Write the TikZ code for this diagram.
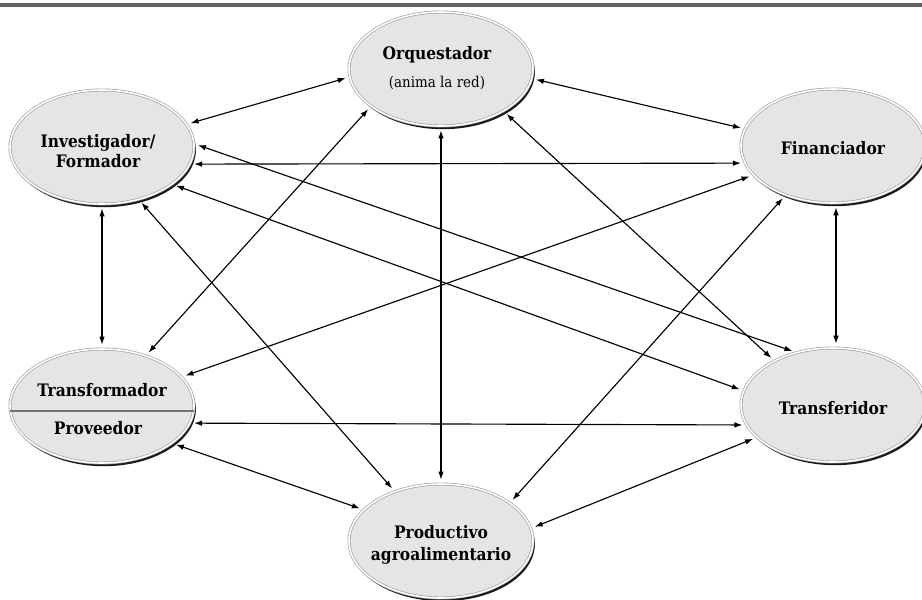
\documentclass[tikz,border=0pt]{standalone}
\usepackage{fontspec}
\setmainfont[FakeStretch=0.9]{DejaVu Serif}
\usetikzlibrary{shapes.geometric,shadows,arrows.meta}

\begin{document}
\begin{tikzpicture}[x=0.75pt, y=-0.75pt,
        actor/.style={ellipse, minimum width=138pt, minimum height=85.5pt, inner sep=0pt,
            fill=gray!20, draw=gray!75, line width=0.5pt, double=white, double distance=1.2pt,
            drop shadow={shadow xshift=1.4pt, shadow yshift=-2.4pt, fill=black!90, opacity=1}},
        rol/.style={font=\bfseries\fontsize{12.9}{15}\selectfont, align=center, inner sep=0pt},
        note/.style={font=\fontsize{11.2}{13}\selectfont, inner sep=0pt},
        link/.style={{Latex[length=6pt,width=4.2pt]}-{Latex[length=6pt,width=4.2pt]},
            line width=0.85pt, shorten <=3pt, shorten >=3pt}]
    \useasboundingbox (0,0) rectangle (922,600);
    \draw[black!62, line width=3pt] (0,5) -- (922,5);

    \node[actor] (orq) at (441,69) {};
    \node[actor] (inv) at (102,147) {};
    \node[actor] (fin) at (833,146) {};
    \node[actor] (trf) at (102,406) {};
    \node[actor] (tra) at (833,405) {};
    \node[actor] (pro) at (441,541) {};
    \draw[black!55, line width=2.2pt] ([yshift=-3.75pt]trf.west) -- ([yshift=-3.75pt]trf.east);

    \node[rol] (orq-a) at (437,55) {Orquestador};
    \node[note] (orq-b) at (437,83) {(anima la red)};
    \node[rol] (inv-t) at (98,151) {Investigador/\\Formador};
    \node[rol] (fin-t) at (833,148) {Financiador};
    \node[rol] (trf-a) at (102,390) {Transformador};
    \node[rol] (trf-b) at (98,428) {Proveedor};
    \node[rol] (tra-t) at (833,408) {Transferidor};
    \node[rol] (pro-t) at (441,545) {Productivo\\[1pt]agroalimentario};

    \draw[link] (orq.185) -- (inv.15);
    \draw[link] (orq.-6) -- (fin.169);
    \draw[link] (inv.-11) -- (fin.191);
    \draw[link] (inv.2) -- (tra.125);
    \draw[link] (inv.-28) -- (tra.171);
    \draw[link] (inv.-55) -- (pro.133);
    \draw[link] (inv.-90) -- (trf.90);
    \draw[link] (orq.208) -- (trf.49);
    \draw[link] (orq.-90) -- (pro.90);
    \draw[link] (orq.-34) -- (tra.143);
    \draw[link] (fin.200) -- (trf.20);
    \draw[link] (fin.-87) -- (tra.87);
    \draw[link] (fin.226) -- (pro.29);
    \draw[link] (trf.-11.5) -- (tra.-167);
    \draw[link] (trf.-28) -- (pro.158);
    \draw[link] (tra.203) -- (pro.8);
\end{tikzpicture}
\end{document}
